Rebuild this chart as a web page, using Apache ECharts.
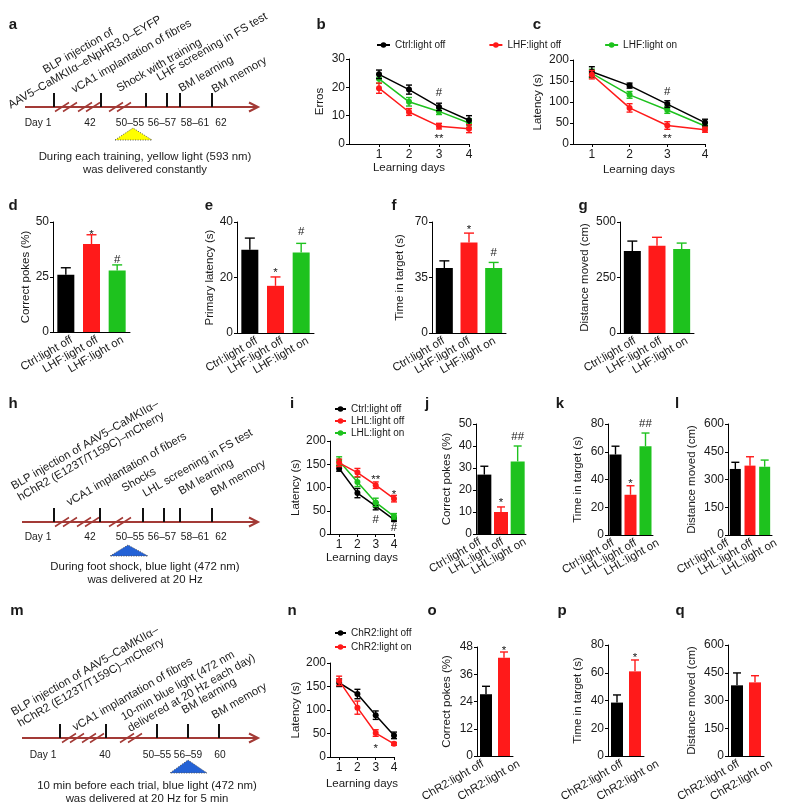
<!DOCTYPE html>
<html><head><meta charset="utf-8">
<script src="https://cdn.jsdelivr.net/npm/echarts@6/dist/echarts.min.js"></script>
<style>html,body{margin:0;padding:0;background:#fff}#chart{width:788px;height:806px}</style>
</head><body><div id="chart"></div>
<script>
// ---------------- DATA ----------------
const days = [1, 2, 3, 4];

// b: Errors
const bCtrlOff = [24.6, 19.2, 13.1, 8.4];
const bCtrlOffErr = [1.5, 1.6, 1.3, 1.6];
const bLhfOff = [19.7, 11.3, 6.3, 5.4];
const bLhfOffErr = [1.8, 1.2, 1.0, 1.4];
const bLhfOn = [23.0, 14.9, 11.5, 7.4];
const bLhfOnErr = [1.6, 1.5, 1.1, 1.5];
const bMarks = [[3, 18.0, '#'], [3, 2.8, '**']];

// c: Latency (s)
const cCtrlOff = [172, 139, 95, 51];
const cCtrlOffErr = [12, 6, 8, 8];
const cLhfOff = [165, 86, 44, 34];
const cLhfOffErr = [10, 10, 9, 6];
const cLhfOn = [168, 117, 81, 43];
const cLhfOnErr = [10, 8, 8, 7];
const cMarks = [[3, 124, '#'], [3, 19, '**']];

// d-g
const lhfGroups = ['Ctrl:light off', 'LHF:light off', 'LHF:light on'];
const dPokes = [26, 40, 28];
const dPokesErr = [3.2, 4.2, 2.5];
const dMarks = [[1, 45.5, '*'], [2, 32.7, '#']];
const ePrimary = [30, 17, 29];
const ePrimaryErr = [4.2, 3.2, 3.3];
const eMarks = [[1, 22.7, '*'], [2, 36.4, '#']];
const fTarget = [41, 57, 41];
const fTargetErr = [4.5, 6, 3.5];
const fMarks = [[1, 66.8, '*'], [2, 50.5, '#']];
const gDistance = [369, 393, 378];
const gDistanceErr = [45, 38, 27];

// i: Latency (s)
const iCtrlOff = [141, 88, 60, 31];
const iCtrlOffErr = [6, 10, 8, 4];
const iLhlOff = [153, 132, 105, 76];
const iLhlOffErr = [8, 9, 7, 7];
const iLhlOn = [157, 112, 68, 38];
const iLhlOnErr = [9, 10, 9, 6];
const iMarks = [[3, 122, '**'], [4, 90, '*'], [3, 30, '#'], [4, 13, '#']];

// j-l
const lhlGroups = ['Ctrl:light off', 'LHL:light off', 'LHL:light on'];
const jPokes = [27, 10, 33];
const jPokesErr = [3.8, 2.3, 7];
const jMarks = [[1, 15.5, '*'], [2, 44, '##']];
const kTarget = [58, 29, 64];
const kTargetErr = [6, 6.5, 9.5];
const kMarks = [[1, 39, '*'], [2, 80, '##']];
const lDistance = [357, 375, 369];
const lDistanceErr = [36, 48, 36];

// n: Latency (s)
const nOff = [158, 134, 89, 46];
const nOffErr = [8, 10, 9, 7];
const nOn = [162, 105, 51, 28];
const nOnErr = [10, 14, 7, 3];
const nMarks = [[3, 23, '*']];

// o-q
const chr2Groups = ['ChR2:light off', 'ChR2:light on'];
const oPokes = [27.2, 43.3];
const oPokesErr = [3.5, 2.5];
const oMarks = [[1, 47.6, '*']];
const pTarget = [38.5, 61];
const pTargetErr = [5.5, 8.2];
const pMarks = [[1, 72.8, '*']];
const qDistance = [382, 398];
const qDistanceErr = [67, 36];

// timeline texts
const aTopLabels = ['BLP injection of\nAAV5\u2013CaMKII\u03b1\u2013eNpHR3.0\u2013EYFP', 'vCA1 implantation of fibres', 'Shock with training', 'LHF screening in FS test', 'BM learning', 'BM memory'];
const aDayLabels = ['Day 1', '42', '50\u201355', '56\u201357', '58\u201361', '62'];
const aCaption = 'During each training, yellow light (593 nm)\nwas delivered constantly';
const hTopLabels = ['BLP injection of AAV5\u2013CaMKII\u03b1\u2013\nhChR2 (E123T/T159C)\u2013mCherry', 'vCA1 implantation of fibers', 'Shocks', 'LHL screening in FS test', 'BM learning', 'BM memory'];
const hDayLabels = ['Day 1', '42', '50\u201355', '56\u201357', '58\u201361', '62'];
const hCaption = 'During foot shock, blue light (472 nm)\nwas delivered at 20 Hz';
const mTopLabels = ['BLP injection of AAV5\u2013CaMKII\u03b1\u2013\nhChR2 (E123T/T159C)\u2013mCherry', 'vCA1 implantation of fibres', '10-min blue light (472 nm\ndelivered at 20 Hz each day)', 'BM learning', 'BM memory'];
const mDayLabels = ['Day 1', '40', '50\u201355', '56\u201359', '60'];
const mCaption = '10 min before each trial, blue light (472 nm)\nwas delivered at 20 Hz for 5 min';

// ---------------- STYLE / LAYOUT ----------------
const FONT = '"Liberation Sans", Arial, Helvetica, sans-serif';
const TXT = '#1a1a1a';
const BLACK = '#000000', RED = '#ff1a1a', GREEN = '#1ec21e';
const TL = '#a33a36';
const NUM = 12, NAME = 11.5, CAT = 11.5, LEG = 10;

const grids = [], xAxes = [], yAxes = [], series = [], graphics = [];

function axisLine() { return {show: true, onZero: false, lineStyle: {color: '#000', width: 1}}; }
function labelStyle(extra) { return Object.assign({color: TXT, fontSize: NUM, fontFamily: FONT, margin: 4}, extra || {}); }
const nameStyle = {color: TXT, fontSize: NAME, fontFamily: FONT};

function markSeries(gi, marks) {
  return {
    type: 'custom', xAxisIndex: gi, yAxisIndex: gi, silent: true, z: 10,
    data: marks.map(m => [m[0], m[1]]),
    renderItem: function (params, api) {
      const p = api.coord([api.value(0), api.value(1)]);
      const t = marks[params.dataIndex][2];
      return {type: 'text', x: p[0], y: p[1] + (t.charAt(0) === '*' ? 3 : 0),
        style: {text: t, align: 'center', verticalAlign: 'middle', fontSize: 11.5, fontFamily: FONT, fill: TXT}};
    }
  };
}

function errRender(colors, both, hw) {
  return function (params, api) {
    const x = api.value(0), m = api.value(1), e = api.value(2);
    const c = Array.isArray(colors) ? colors[params.dataIndex] : colors;
    const top = api.coord([x, m + e]);
    const bot = api.coord([x, both ? m - e : m]);
    const st = {stroke: c, lineWidth: 1.4};
    const ch = [
      {type: 'line', shape: {x1: top[0], y1: top[1], x2: bot[0], y2: bot[1]}, style: st},
      {type: 'line', shape: {x1: top[0] - hw, y1: top[1], x2: top[0] + hw, y2: top[1]}, style: st}
    ];
    if (both) ch.push({type: 'line', shape: {x1: bot[0] - hw, y1: bot[1], x2: bot[0] + hw, y2: bot[1]}, style: st});
    return {type: 'group', children: ch};
  };
}

function linePanel(p) {
  const gi = grids.length;
  grids.push({left: p.left, top: p.top, width: p.width, height: p.height});
  xAxes.push({gridIndex: gi, type: 'value', min: p.xmin, max: 4,
    name: 'Learning days', nameLocation: 'middle', nameGap: p.xGap, nameTextStyle: nameStyle,
    axisLine: axisLine(), axisTick: {show: true, length: 3, lineStyle: {color: '#000'}, customValues: days},
    axisLabel: labelStyle({customValues: days, margin: 5}), splitLine: {show: false}});
  yAxes.push({gridIndex: gi, type: 'value', min: 0, max: p.ymax, interval: p.yint,
    name: p.yName, nameLocation: 'middle', nameGap: p.yGap, nameTextStyle: nameStyle,
    axisLine: axisLine(), axisTick: {show: true, length: 3, lineStyle: {color: '#000'}},
    axisLabel: labelStyle(), splitLine: {show: false}});
  p.lines.forEach((s, k) => {
    series.push({type: 'line', name: s.name, xAxisIndex: gi, yAxisIndex: gi, silent: true,
      data: days.map((d, i) => [d, s.mean[i]]), symbol: 'circle', symbolSize: 6,
      itemStyle: {color: s.color}, lineStyle: {color: s.color, width: 1.5}, z: 3 + k});
    series.push({type: 'custom', xAxisIndex: gi, yAxisIndex: gi, silent: true, z: 3 + k,
      data: days.map((d, i) => [d, s.mean[i], s.err[i]]), renderItem: errRender(s.color, true, 3)});
  });
  if (p.marks) series.push(markSeries(gi, p.marks));
}

function barPanel(p) {
  const gi = grids.length;
  grids.push({left: p.left, top: p.top, width: p.width, height: p.height});
  xAxes.push({gridIndex: gi, type: 'category', data: p.cats, boundaryGap: true,
    axisLine: axisLine(), axisTick: {show: false}, axisLabel: {show: false}, splitLine: {show: false}});
  yAxes.push({gridIndex: gi, type: 'value', min: 0, max: p.ymax, interval: p.yint,
    name: p.yName, nameLocation: 'middle', nameGap: p.yGap, nameTextStyle: nameStyle,
    axisLine: axisLine(), axisTick: {show: true, length: 3, lineStyle: {color: '#000'}},
    axisLabel: labelStyle(), splitLine: {show: false}});
  series.push({type: 'bar', xAxisIndex: gi, yAxisIndex: gi, silent: true, barWidth: p.barWidth,
    data: p.mean.map((v, i) => ({value: v, itemStyle: {color: p.colors[i]}})), z: 2});
  series.push({type: 'custom', xAxisIndex: gi, yAxisIndex: gi, silent: true, z: 3,
    data: p.mean.map((v, i) => [i, v, p.err[i]]), renderItem: errRender(p.colors, false, p.capHalf)});
  if (p.marks) series.push(markSeries(gi, p.marks));
  // category labels on their own (wider-spaced) axis, as in the figure
  const li = grids.length;
  grids.push({left: p.labLeft, top: p.top, width: p.labBand * p.cats.length, height: p.height});
  xAxes.push({gridIndex: li, type: 'category', data: p.cats, axisLine: {show: false}, axisTick: {show: false},
    axisLabel: {rotate: 30, interval: 0, margin: 7, color: TXT, fontSize: CAT, fontFamily: FONT}, splitLine: {show: false}});
  yAxes.push({gridIndex: li, type: 'value', show: false});
}

const c3 = [BLACK, RED, GREEN], c2 = [BLACK, RED];

// Row 1
linePanel({left: 349, top: 59, width: 120, height: 85, xmin: 0, ymax: 30, yint: 10, yName: 'Erros', yGap: 23, xGap: 17,
  lines: [{name: 'LHF:light on', mean: bLhfOn, err: bLhfOnErr, color: GREEN},
          {name: 'Ctrl:light off', mean: bCtrlOff, err: bCtrlOffErr, color: BLACK},
          {name: 'LHF:light off', mean: bLhfOff, err: bLhfOffErr, color: RED}], marks: bMarks});
linePanel({left: 573, top: 60, width: 132, height: 84, xmin: 0.5, ymax: 200, yint: 50, yName: 'Latency (s)', yGap: 29, xGap: 20,
  lines: [{name: 'LHF:light on', mean: cLhfOn, err: cLhfOnErr, color: GREEN},
          {name: 'Ctrl:light off', mean: cCtrlOff, err: cCtrlOffErr, color: BLACK},
          {name: 'LHF:light off', mean: cLhfOff, err: cLhfOffErr, color: RED}], marks: cMarks});
// Row 2
barPanel({left: 53, top: 222, width: 77, height: 110, cats: lhfGroups, mean: dPokes, err: dPokesErr, colors: c3, barWidth: 17, capHalf: 5,
  ymax: 50, yint: 25, yName: 'Correct pokes (%)', yGap: 20, marks: dMarks, labLeft: 59, labBand: 25.5});
barPanel({left: 237, top: 222, width: 77, height: 111, cats: lhfGroups, mean: ePrimary, err: ePrimaryErr, colors: c3, barWidth: 17, capHalf: 5,
  ymax: 40, yint: 20, yName: 'Primary latency (s)', yGap: 19, marks: eMarks, labLeft: 244, labBand: 25.5});
barPanel({left: 432, top: 222, width: 74, height: 111, cats: lhfGroups, mean: fTarget, err: fTargetErr, colors: c3, barWidth: 17, capHalf: 5,
  ymax: 70, yint: 35, yName: 'Time in target (s)', yGap: 26, marks: fMarks, labLeft: 431, labBand: 25.5});
barPanel({left: 620, top: 222, width: 74, height: 111, cats: lhfGroups, mean: gDistance, err: gDistanceErr, colors: c3, barWidth: 17, capHalf: 5,
  ymax: 500, yint: 250, yName: 'Distance moved (cm)', yGap: 29, labLeft: 622, labBand: 26});
// Row 3
linePanel({left: 330, top: 441, width: 64, height: 93, xmin: 0.5, ymax: 200, yint: 50, yName: 'Latency (s)', yGap: 28, xGap: 18,
  lines: [{name: 'Ctrl:light off', mean: iCtrlOff, err: iCtrlOffErr, color: BLACK},
          {name: 'LHL:light on', mean: iLhlOn, err: iLhlOnErr, color: GREEN},
          {name: 'LHL:light off', mean: iLhlOff, err: iLhlOffErr, color: RED}], marks: iMarks});
barPanel({left: 476, top: 424, width: 50, height: 110, cats: lhlGroups, mean: jPokes, err: jPokesErr, colors: c3, barWidth: 14, capHalf: 4,
  ymax: 50, yint: 10, yName: 'Correct pokes (%)', yGap: 23, marks: jMarks, labLeft: 469, labBand: 22.5});
barPanel({left: 608, top: 424, width: 45, height: 111, cats: lhlGroups, mean: kTarget, err: kTargetErr, colors: c3, barWidth: 12, capHalf: 4,
  ymax: 80, yint: 20, yName: 'Time in target (s)', yGap: 24, marks: kMarks, labLeft: 602, labBand: 22.5});
barPanel({left: 728, top: 424, width: 44, height: 111, cats: lhlGroups, mean: lDistance, err: lDistanceErr, colors: c3, barWidth: 11, capHalf: 4,
  ymax: 600, yint: 150, yName: 'Distance moved (cm)', yGap: 30, labLeft: 716, labBand: 24});
// Row 4
linePanel({left: 330, top: 663, width: 64, height: 94, xmin: 0.5, ymax: 200, yint: 50, yName: 'Latency (s)', yGap: 28, xGap: 21,
  lines: [{name: 'ChR2:light off', mean: nOff, err: nOffErr, color: BLACK},
          {name: 'ChR2:light on', mean: nOn, err: nOnErr, color: RED}], marks: nMarks});
barPanel({left: 477, top: 647, width: 36, height: 109, cats: chr2Groups, mean: oPokes, err: oPokesErr, colors: c2, barWidth: 12, capHalf: 4,
  ymax: 48, yint: 12, yName: 'Correct pokes (%)', yGap: 24, marks: oMarks, labLeft: 465, labBand: 36});
barPanel({left: 608, top: 645, width: 36, height: 111, cats: chr2Groups, mean: pTarget, err: pTargetErr, colors: c2, barWidth: 12, capHalf: 4,
  ymax: 80, yint: 20, yName: 'Time in target (s)', yGap: 24, marks: pMarks, labLeft: 604, labBand: 36});
barPanel({left: 728, top: 645, width: 36, height: 111, cats: chr2Groups, mean: qDistance, err: qDistanceErr, colors: c2, barWidth: 12, capHalf: 4,
  ymax: 600, yint: 150, yName: 'Distance moved (cm)', yGap: 30, labLeft: 722, labBand: 35});

// ---------------- TIMELINES (schematic) ----------------
function txt(x, y, text, o) {
  o = o || {};
  return {type: 'text', x: x, y: y, rotation: o.rot || 0, silent: true,
    style: {text: text, fontSize: o.size || 11.4, fontFamily: FONT, fontWeight: o.weight || 'normal', fill: TXT,
      align: o.align || 'center', verticalAlign: o.va || 'middle', lineHeight: o.lh || 13}};
}
function timeline(t) {
  const y = t.y;
  graphics.push({type: 'line', silent: true, shape: {x1: t.x1, y1: y, x2: t.x2, y2: y}, style: {stroke: TL, lineWidth: 2}});
  graphics.push({type: 'polyline', silent: true, shape: {points: [[t.x2 - 9, y - 4.5], [t.x2, y], [t.x2 - 9, y + 4.5]]}, style: {stroke: TL, lineWidth: 2, fill: null}});
  t.slashes.forEach(cx => [-4, 4].forEach(d => graphics.push({type: 'line', silent: true,
    shape: {x1: cx + d - 7, y1: y + 4.5, x2: cx + d + 7, y2: y - 4.5}, style: {stroke: TL, lineWidth: 1.5}})));
  t.ticks.forEach(x => graphics.push({type: 'line', silent: true, shape: {x1: x, y1: y - 14, x2: x, y2: y}, style: {stroke: '#111', lineWidth: 2}}));
  t.dayLabels.forEach((s, i) => graphics.push(txt(t.dayX[i], t.dayY, s, {size: 10.2})));
  const tr = t.tri;
  graphics.push({type: 'polygon', silent: true, shape: {points: [[tr[0], tr[3]], [tr[1], tr[2]], [tr[4], tr[3]]]},
    style: {fill: t.triColor, stroke: '#555', lineWidth: 1, lineDash: [1, 1.5]}});
  graphics.push(txt(t.capX, t.capY, t.caption, {lh: 13}));
  t.topLabels.forEach((s, i) => {
    const L = t.labelPos[i];
    graphics.push(txt(L[0], L[1], s, {rot: Math.PI / 6, align: L[2] || 'left', va: 'bottom', lh: 13}));
  });
}
timeline({y: 107, x1: 25, x2: 258, ticks: [54, 101, 146, 167, 180, 212], slashes: [66, 89, 120],
  dayLabels: aDayLabels, dayX: [38, 90, 130, 162, 195, 221], dayY: 123,
  tri: [115, 133, 128, 140, 152], triColor: '#ffff00', caption: aCaption, capX: 145, capY: 163,
  topLabels: aTopLabels, labelPos: [[88, 68, 'center'], [76, 96], [121, 95], [161, 84], [183, 95], [216, 96]]});
timeline({y: 522, x1: 22, x2: 258, ticks: [54, 100, 143, 164, 180, 212], slashes: [66, 88, 120],
  dayLabels: hDayLabels, dayX: [38, 90, 130, 162, 195, 221], dayY: 537,
  tri: [110, 128, 545, 556, 148], triColor: '#2462d6', caption: hCaption, capX: 145, capY: 573,
  topLabels: hTopLabels, labelPos: [[22, 504], [71, 509], [126, 495], [147, 500], [183, 498], [215, 499]]});
timeline({y: 738, x1: 22, x2: 258, ticks: [60, 106, 157, 188, 219], slashes: [73, 93, 131],
  dayLabels: mDayLabels, dayX: [43, 105, 157, 188, 220], dayY: 755,
  tri: [170, 188, 760, 773, 207], triColor: '#2462d6', caption: mCaption, capX: 147, capY: 792,
  topLabels: mTopLabels, labelPos: [[22, 730], [77, 734], [132, 735], [186, 717], [216, 722]]});

// panel letters
[['a', 13, 25], ['b', 321, 25], ['c', 537, 25],
 ['d', 13, 206], ['e', 209, 206], ['f', 394, 206], ['g', 583, 206],
 ['h', 13, 404], ['i', 292, 404], ['j', 427, 404], ['k', 560, 404], ['l', 677, 404],
 ['m', 17, 611], ['n', 292, 611], ['o', 432, 611], ['p', 562, 611], ['q', 680, 611]]
 .forEach(l => graphics.push(txt(l[1], l[2], l[0], {size: 15, weight: 'bold'})));

const legendText = {fontSize: LEG, color: TXT, fontFamily: FONT};
const option = {
  animation: false,
  backgroundColor: '#ffffff',
  textStyle: {fontFamily: FONT},
  grid: grids, xAxis: xAxes, yAxis: yAxes, series: series,
  legend: [
    {data: ['Ctrl:light off', 'LHF:light off', 'LHF:light on'], left: 371, top: 35, itemWidth: 13, itemHeight: 7, itemGap: 43, textStyle: legendText, selectedMode: false},
    {data: ['Ctrl:light off', 'LHL:light off', 'LHL:light on'], orient: 'vertical', left: 329, top: 399, itemWidth: 11, itemHeight: 7, itemGap: 2, textStyle: legendText, selectedMode: false},
    {data: ['ChR2:light off', 'ChR2:light on'], orient: 'vertical', left: 329, top: 623, itemWidth: 11, itemHeight: 7, itemGap: 4, textStyle: legendText, selectedMode: false}
  ],
  graphic: {elements: graphics}
};
const chart = echarts.init(document.getElementById('chart'), null, {renderer: 'canvas'});
chart.setOption(option);
</script></body></html>
